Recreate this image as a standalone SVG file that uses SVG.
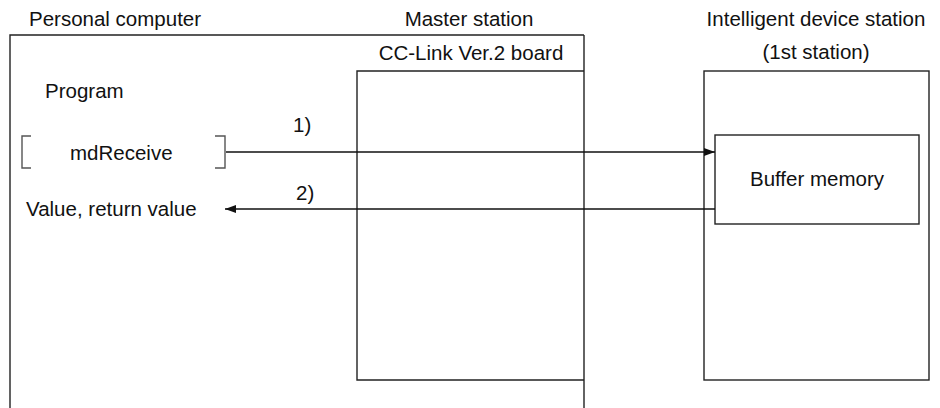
<svg xmlns="http://www.w3.org/2000/svg" width="940" height="408" viewBox="0 0 940 408">
<style>
.t{font-family:"Liberation Sans",Arial,sans-serif;font-size:20.5px;fill:#111}
.m{text-anchor:middle}
.box{fill:none;stroke:#222;stroke-width:1.4}
.br{fill:none;stroke:#555;stroke-width:1.4}
.ln{fill:none;stroke:#111;stroke-width:1.6}
</style>
<defs>
<marker id="ah" markerWidth="12" markerHeight="10" refX="11" refY="5" orient="auto" markerUnits="userSpaceOnUse">
<path d="M0,1 L11,5 L0,9 Z" fill="#111"/>
</marker>
</defs>
<g id="pc">
<path class="box" d="M10,408 V35 H584"/>
<text class="t" x="29" y="26">Personal computer</text>
<text class="t" x="45" y="98">Program</text>
<path class="br" d="M31,136 H22 V168 H31"/>
<path class="br" d="M215,136 H225 V168 H215"/>
<text class="t" x="70" y="160">mdReceive</text>
<text class="t" x="26" y="216">Value, return value</text>
</g>
<g id="master">
<path class="box" d="M584,35 V408"/>
<text class="t m" x="469" y="26">Master station</text>
</g>
<g id="board">
<path class="box" d="M584,71 H357 V380 H584"/>
<text class="t m" x="471" y="60">CC-Link Ver.2 board</text>
</g>
<g id="device">
<rect class="box" x="704" y="71" width="225" height="309"/>
<text class="t m" x="816" y="26">Intelligent device station</text>
<text class="t m" x="816" y="59">(1st station)</text>
</g>
<g id="buffer">
<rect class="box" x="715" y="135" width="204" height="89"/>
<text class="t m" x="817" y="186">Buffer memory</text>
</g>
<g id="connectors">
<path class="ln" d="M226,152 H715" marker-end="url(#ah)"/>
<path class="ln" d="M715,209 H225" marker-end="url(#ah)"/>
<text class="t" x="293" y="132">1)</text>
<text class="t" x="296" y="200">2)</text>
</g>
</svg>
